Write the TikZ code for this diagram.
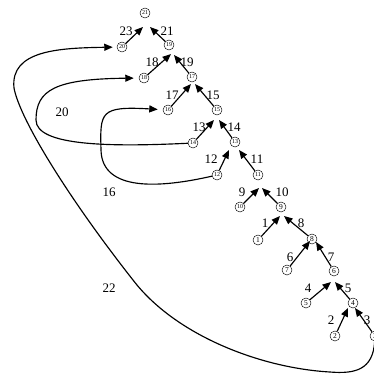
\documentclass[tikz,border=0pt]{standalone}
\usepackage{fontspec}
\setmainfont{Liberation Serif}
\usetikzlibrary{arrows.meta}
\begin{document}
\begin{tikzpicture}[x=1pt,y=-1pt,
  cnode/.style={circle,draw,line width=0.45pt,inner sep=0pt,minimum size=10pt,font=\fontsize{7.5}{7.5}\selectfont},
  cnodd/.style={cnode,font=\fontsize{6}{6}\selectfont},
  arr/.style={line width=1.15pt,-{Triangle[length=8.5pt,width=7pt]}},
  lab/.style={font=\fontsize{13}{13}\selectfont,inner sep=0pt}]
\useasboundingbox (0,0) rectangle (374,373);
% circled nodes
\node[cnodd] (n21) at (145,13) {21};
\node[cnodd] (n20) at (122,47) {20};
\node[cnodd] (n19) at (169,45) {19};
\node[cnodd] (n18) at (144,78) {18};
\node[cnodd] (n17) at (192,77) {17};
\node[cnodd] (n16) at (168,110) {16};
\node[cnodd] (n15) at (217,110) {15};
\node[cnodd] (n14) at (193,143) {14};
\node[cnodd] (n13) at (235,142) {13};
\node[cnodd] (n12) at (217,175) {12};
\node[cnodd] (n11) at (258,175) {11};
\node[cnodd] (n10) at (240,207) {10};
\node[cnode] (n9) at (281,207) {9};
\node[cnode] (n1) at (258,240) {1};
\node[cnode] (n8) at (312,239) {8};
\node[cnode] (n7) at (287,270) {7};
\node[cnode] (n6) at (334,271) {6};
\node[cnode] (n5) at (306,303) {5};
\node[cnode] (n4) at (353,303) {4};
\node[cnode] (n2) at (335,336) {2};
\node[cnode] (n3) at (375,336) {3};
% arrow tips
\coordinate (t23) at (143,27);
\coordinate (t21) at (150,27);
\coordinate (t18) at (171,54);
\coordinate (t19) at (174,55);
\coordinate (t17) at (191,84);
\coordinate (t15) at (195,84);
\coordinate (t13) at (214,120);
\coordinate (t14) at (219,120);
\coordinate (t12) at (229,150);
\coordinate (t11) at (239,150);
\coordinate (t9) at (259,188);
\coordinate (t10) at (262,188);
\coordinate (t1) at (280,216);
\coordinate (t8) at (284,216);
\coordinate (t6) at (310,241);
\coordinate (t7) at (316,242);
\coordinate (t4) at (331,282);
\coordinate (t5) at (335,282);
\coordinate (t2) at (348,308);
\coordinate (t3) at (355,308);
% tree arrows
\draw[arr] (n20) -- (t23);
\draw[arr] (n19) -- (t21);
\draw[arr] (n18) -- (t18);
\draw[arr] (n17) -- (t19);
\draw[arr] (n16) -- (t17);
\draw[arr] (n15) -- (t15);
\draw[arr] (n14) -- (t13);
\draw[arr] (n13) -- (t14);
\draw[arr] (n12) -- (t12);
\draw[arr] (n11) -- (t11);
\draw[arr] (n10) -- (t9);
\draw[arr] (n9) -- (t10);
\draw[arr] (n1) -- (t1);
\draw[arr] (n8) -- (t8);
\draw[arr] (n7) -- (t6);
\draw[arr] (n6) -- (t7);
\draw[arr] (n5) -- (t4);
\draw[arr] (n4) -- (t5);
\draw[arr] (n2) -- (t2);
\draw[arr] (n3) -- (t3);
% long curved arrows
\draw[arr,shorten >=5pt] (n14) .. controls (110,147) and (36,146) .. (36,120)
  .. controls (36,90) and (55,79) .. (n18);
\draw[arr,shorten >=5pt] (n12) .. controls (160,188) and (102,192) .. (101,150)
  .. controls (100,112) and (100,106) .. (n16);
\draw[arr,shorten >=4pt] (n3) .. controls (373,370) and (355,374) .. (330,372)
  .. controls (260,368) and (175,335) .. (133,280)
  .. controls (70,200) and (20,120) .. (14,88)
  .. controls (10,50) and (60,48) .. (n20);
% edge labels
\node[lab] (l23) at (126,31) {23};
\node[lab] (l21) at (167,31) {21};
\node[lab] (l18) at (152,62) {18};
\node[lab] (l19) at (187,62) {19};
\node[lab] (l17) at (172,95) {17};
\node[lab] (l15) at (213,95) {15};
\node[lab] (l13) at (199,127) {13};
\node[lab] (l14) at (234,127) {14};
\node[lab] (l12) at (211,159) {12};
\node[lab] (l11) at (257,159) {11};
\node[lab] (l9) at (242,192) {9};
\node[lab] (l10) at (282,192) {10};
\node[lab] (l1) at (265,223) {1};
\node[lab] (l8) at (301,223) {8};
\node[lab] (l6) at (290,257) {6};
\node[lab] (l7) at (331,257) {7};
\node[lab] (l4) at (308,288) {4};
\node[lab] (l5) at (348,288) {5};
\node[lab] (l2) at (331,320) {2};
\node[lab] (l3) at (367,320) {3};
\node[lab] (l20) at (62,112) {20};
\node[lab] (l16) at (109,192) {16};
\node[lab] (l22) at (109,288) {22};
\end{tikzpicture}
\end{document}
